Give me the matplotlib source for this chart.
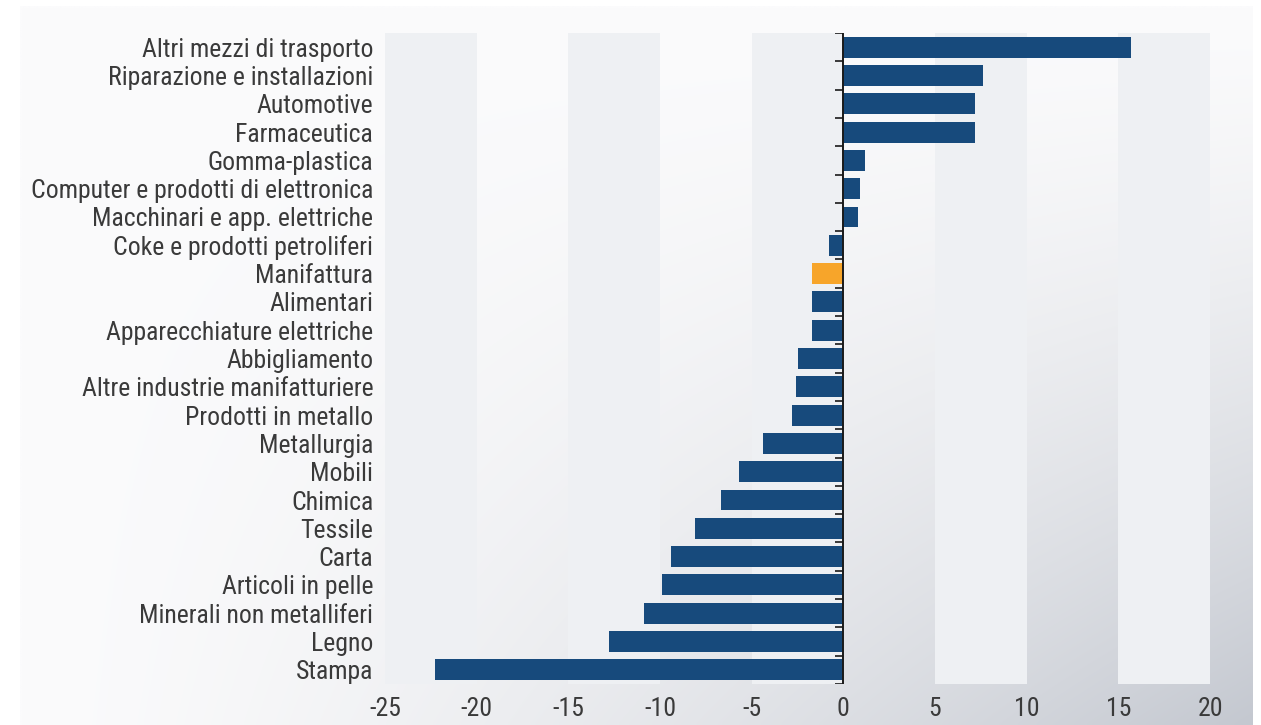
import numpy as np
import matplotlib
matplotlib.use("Agg")
import matplotlib.pyplot as plt
from matplotlib.colors import to_rgb

categories = [
    "Altri mezzi di trasporto",
    "Riparazione e installazioni",
    "Automotive",
    "Farmaceutica",
    "Gomma-plastica",
    "Computer e prodotti di elettronica",
    "Macchinari e app. elettriche",
    "Coke e prodotti petroliferi",
    "Manifattura",
    "Alimentari",
    "Apparecchiature elettriche",
    "Abbigliamento",
    "Altre industrie manifatturiere",
    "Prodotti in metallo",
    "Metallurgia",
    "Mobili",
    "Chimica",
    "Tessile",
    "Carta",
    "Articoli in pelle",
    "Minerali non metalliferi",
    "Legno",
    "Stampa",
]
values = [15.7, 7.6, 7.2, 7.2, 1.2, 0.9, 0.8, -0.8, -1.7, -1.7, -1.7, -2.5,
          -2.6, -2.8, -4.4, -5.7, -6.7, -8.1, -9.4, -9.9, -10.9, -12.8, -22.3]
highlight = "Manifattura"
x_ticks = [-25, -20, -15, -10, -5, 0, 5, 10, 15, 20]
band_starts = [-25, -15, -5, 5, 15]

navy = "#174a7c"
orange = "#f7a52a"
band_color = "#eef0f3"
text_color = "#3a3a3a"

plt.rcParams['font.family'] = ['Roboto Condensed', 'DejaVu Sans']
plt.rcParams['font.weight'] = 'normal'

W, H = 1261, 725
fig = plt.figure(figsize=(W / 100, H / 100), dpi=100)
fig.patch.set_facecolor("white")

# gradient background panel
bg = fig.add_axes([20 / W, 0, (1253 - 20) / W, 1 - 6 / H], zorder=0)
gx = np.linspace(0, 1, 300)
gy = np.linspace(0, 1, 200)
X, Y = np.meshgrid(gx, gy)
t = np.clip(X * Y, 0, 1) ** 1.4
c0 = np.array(to_rgb("#fbfbfc"))
c1 = np.array(to_rgb("#c4c8d0"))
img = c0[None, None, :] * (1 - t[..., None]) + c1[None, None, :] * t[..., None]
bg.imshow(img, aspect="auto", extent=[0, 1, 1, 0], interpolation="bilinear")
bg.set_axis_off()

ax = fig.add_axes([385 / W, 1 - 684 / H, (1210 - 385) / W, (684 - 33) / H], zorder=1)
ax.patch.set_alpha(0)

n = len(categories)
ypos = np.arange(n)
for s in band_starts:
    ax.axvspan(s, s + 5, color=band_color, zorder=0, lw=0)

colors = [orange if c == highlight else navy for c in categories]
ax.barh(ypos, values, height=0.74, color=colors, zorder=2)

ax.set_xlim(-25, 20)
ax.set_ylim(n - 0.5, -0.5)
ax.set_yticks(ypos)
ax.set_yticklabels(categories)
ax.set_xticks(x_ticks)
ax.set_xticklabels([str(v) for v in x_ticks])
ax.tick_params(axis="y", length=0, pad=8.5, labelsize=18.5, labelcolor=text_color)
ax.tick_params(axis="x", length=0, pad=9, labelsize=18.5, labelcolor=text_color)
for sp in ax.spines.values():
    sp.set_visible(False)

# zero axis with category-boundary ticks
ax.axvline(0, color="#1a1a1a", lw=1.4, zorder=3)
ax.hlines(np.arange(n + 1) - 0.5, -0.45, 0, color="#1a1a1a", lw=1.2, zorder=3)

fig.savefig("out.png", dpi=100)
